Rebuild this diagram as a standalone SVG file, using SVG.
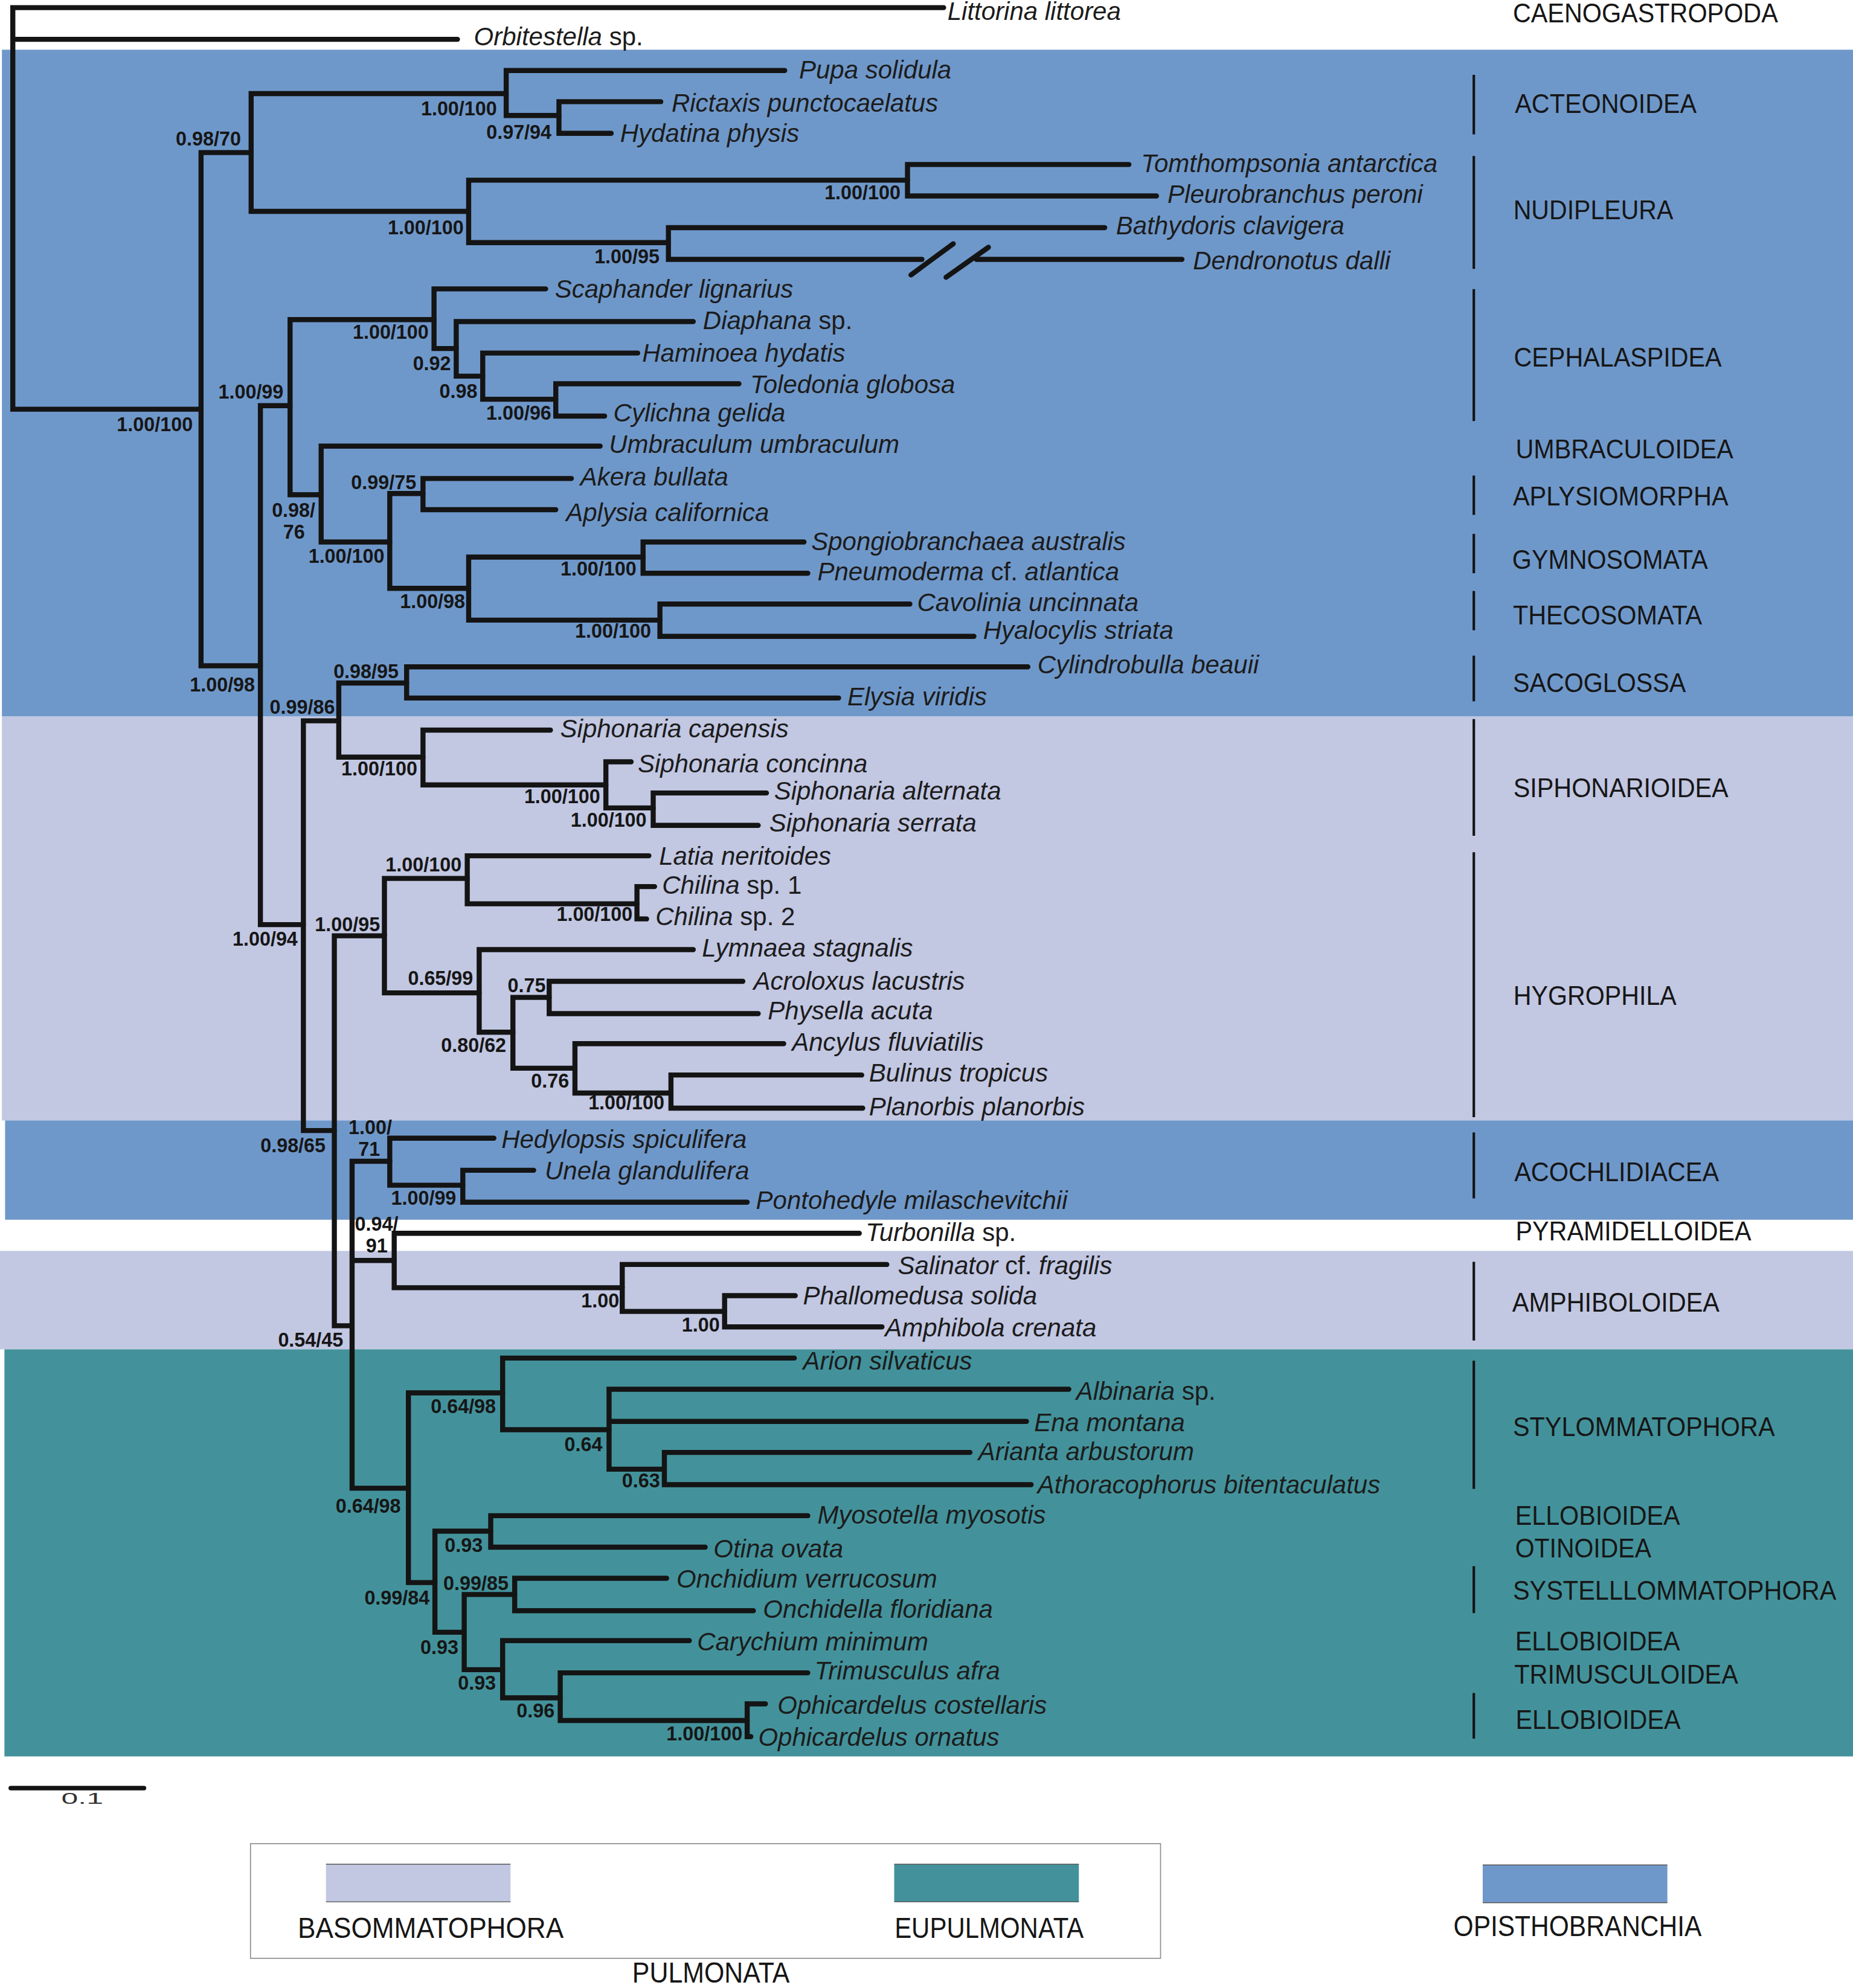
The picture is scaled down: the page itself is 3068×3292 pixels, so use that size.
<svg xmlns="http://www.w3.org/2000/svg" width="3068" height="3292" viewBox="0 0 3068 3292">
<style>
.sp{font-family:"Liberation Sans",Arial,sans-serif;font-style:italic;font-size:20px;fill:#1c1c1c}
.r{font-style:normal}
.bs{font-family:"Liberation Sans",Arial,sans-serif;font-weight:bold;font-size:15.4px;fill:#161616;text-anchor:end}
.cl{font-family:"Liberation Sans",Arial,sans-serif;font-size:21px;fill:#161616}
.lg{font-family:"Liberation Sans",Arial,sans-serif;font-size:23px;fill:#161616}
.br{fill:none;stroke:#141414;stroke-width:4;stroke-linecap:round;stroke-linejoin:miter}
.bar{stroke:#141414;stroke-width:2}
.blue{fill:#6f98ca}
.light{fill:#c2c7e2}
.teal{fill:#43929b}
</style>
<rect width="3068" height="3292" fill="#ffffff"/>
<g transform="scale(2.1)">
<g id="bands">
<rect class="blue" x="1.5" y="39.2" width="1460" height="525.8"/>
<rect class="light" x="1.5" y="565" width="1460" height="318.5"/>
<rect class="blue" x="4" y="883.5" width="1457.5" height="78.3"/>
<rect class="light" x="0" y="986.4" width="1461.5" height="77.6"/>
<rect class="teal" x="3.5" y="1064" width="1458" height="321"/>
</g>
<g id="connectors">
<path class="br" d="M744 6H10.1V322.7H158.5M10.1 31H360.7"/>
<path class="br" d="M198 120.3H158.5V525H205.3"/>
<path class="br" d="M399.1 73.8H198V166.7H369.5"/>
<path class="br" d="M618.7 55.6H399.1V91.1H440.7"/>
<path class="br" d="M521 80.2H440.7V105.1H481.9"/>
<path class="br" d="M715.5 142.1H369.5V191.3H527"/>
<path class="br" d="M890.1 129.7H715.5V154.5H911.8"/>
<path class="br" d="M871 179.5H527V204.5H726.9M769.8 204.5H931.9"/>
<path class="br" d="M718.2 216.8L751.6 192.2M745.9 218.6L779.3 195"/>
<path class="br" d="M228.7 319.9H205.3V729.1H239.2"/>
<path class="br" d="M342.2 252H228.7V390.1H253.2"/>
<path class="br" d="M430.2 227.8H342.2V274.8H359.7"/>
<path class="br" d="M546.6 253.6H359.7V296.6H380.6"/>
<path class="br" d="M502.8 278.4H380.6V314.8H438.2"/>
<path class="br" d="M582.6 302.6H438.2V328.1H476.7"/>
<path class="br" d="M473.2 351.8H253.2V427.4H307.3"/>
<path class="br" d="M333.5 389.2H307.3V463.9H369.5"/>
<path class="br" d="M450.5 377.3H333.5V401.9H438.2"/>
<path class="br" d="M507 439.3H369.5V489H520.3"/>
<path class="br" d="M633.9 427.4H507V452H636.9"/>
<path class="br" d="M717.4 476.3H520.3V501.8H767.9"/>
<path class="br" d="M267.1 568.4H239.2V891.5H263.6"/>
<path class="br" d="M320.6 538.6H267.1V597H333.5"/>
<path class="br" d="M810.4 525.8H320.6V550.4H661.2"/>
<path class="br" d="M434 575.7H333.5V618.9H477.7"/>
<path class="br" d="M497.6 600.7H477.7V637.1H515"/>
<path class="br" d="M604.3 625.3H515V650.8H597.8"/>
<path class="br" d="M303.1 737.9H263.6V1045.4H277.6"/>
<path class="br" d="M368.4 692.7H303.1V782.9H377.8"/>
<path class="br" d="M511.6 674.8H368.4V712.7H502.2"/>
<path class="br" d="M516.1 699.1H502.2V724.6H509.8"/>
<path class="br" d="M546.6 748.8H377.8V813.9H404.4"/>
<path class="br" d="M433 786.5H404.4V842.3H453.3"/>
<path class="br" d="M585.7 773.8H433V799.3H597.8"/>
<path class="br" d="M617.9 823H453.3V861.9H529"/>
<path class="br" d="M679.4 847.7H529V873.8H680.2"/>
<path class="br" d="M307.3 915.7H277.6V1173.5H322M277.6 993.9H310.8"/>
<path class="br" d="M389.4 897.5H307.3V934.6H364.9"/>
<path class="br" d="M420.8 922.8H364.9V948H589.1"/>
<path class="br" d="M677.5 972.5H310.8V1015.4H490.6"/>
<path class="br" d="M699.2 997.1H490.6V1034.1H571.3"/>
<path class="br" d="M627 1021.7H571.3V1046.3H695.4"/>
<path class="br" d="M396.3 1098.3H322V1247.9H342.9"/>
<path class="br" d="M626.3 1070.9H396.3V1127.4H480.2"/>
<path class="br" d="M842.7 1095.5H480.2V1158.5H523.8M480.2 1120.8H809.3"/>
<path class="br" d="M764.8 1145.3H523.8V1170.7H813"/>
<path class="br" d="M386.9 1207.4H342.9V1287.1H366"/>
<path class="br" d="M636.9 1195.2H386.9V1220H556"/>
<path class="br" d="M405.8 1257.3H366V1316.6H396.3"/>
<path class="br" d="M525.6 1244.5H405.8V1270.1H594"/>
<path class="br" d="M543.5 1293.7H396.3V1338.8H441.7"/>
<path class="br" d="M636.9 1319.1H441.7V1356.7H589.1"/>
<path class="br" d="M603.5 1343.6H589.1V1369.4H592"/>
</g>
<g id="taxa">
<g id="t-littorina"><text class="sp" x="747" y="15.5">Littorina littorea</text></g>
<g id="t-orbitestella"><text class="sp" x="373.6" y="35.5">Orbitestella <tspan class="r">sp.</tspan></text></g>
<g id="t-pupa"><text class="sp" x="630" y="62">Pupa solidula</text></g>
<g id="t-rictaxis"><text class="sp" x="529.5" y="88">Rictaxis punctocaelatus</text></g>
<g id="t-hydatina"><text class="sp" x="488.9" y="112">Hydatina physis</text></g>
<g id="t-tomthompsonia"><text class="sp" x="899.6" y="135.7">Tomthompsonia antarctica</text></g>
<g id="t-pleurobranchus"><text class="sp" x="920.5" y="160">Pleurobranchus peroni</text></g>
<g id="t-bathydoris"><text class="sp" x="879.9" y="185">Bathydoris clavigera</text></g>
<g id="t-dendronotus"><text class="sp" x="940.6" y="212.5">Dendronotus dalli</text></g>
<g id="t-scaphander"><text class="sp" x="437.5" y="235">Scaphander lignarius</text></g>
<g id="t-diaphana"><text class="sp" x="554.2" y="259.6">Diaphana <tspan class="r">sp.</tspan></text></g>
<g id="t-haminoea"><text class="sp" x="506.3" y="285.3">Haminoea hydatis</text></g>
<g id="t-toledonia"><text class="sp" x="591.4" y="309.9">Toledonia globosa</text></g>
<g id="t-cylichna"><text class="sp" x="483.6" y="332.5">Cylichna gelida</text></g>
<g id="t-umbraculum"><text class="sp" x="480.1" y="357.3">Umbraculum umbraculum</text></g>
<g id="t-akera"><text class="sp" x="457.5" y="383">Akera bullata</text></g>
<g id="t-aplysia"><text class="sp" x="446.3" y="411">Aplysia californica</text></g>
<g id="t-spongiobranchaea"><text class="sp" x="639.6" y="433.8">Spongiobranchaea australis</text></g>
<g id="t-pneumoderma"><text class="sp" x="644.5" y="457.5">Pneumoderma <tspan class="r">cf.</tspan> atlantica</text></g>
<g id="t-cavolinia"><text class="sp" x="723.1" y="481.8">Cavolinia uncinnata</text></g>
<g id="t-hyalocylis"><text class="sp" x="775.1" y="504">Hyalocylis striata</text></g>
<g id="t-cylindrobulla"><text class="sp" x="818" y="531">Cylindrobulla beauii</text></g>
<g id="t-elysia"><text class="sp" x="668.1" y="556">Elysia viridis</text></g>
<g id="t-scapensis"><text class="sp" x="441.7" y="581.6">Siphonaria capensis</text></g>
<g id="t-sconcinna"><text class="sp" x="502.8" y="608.9">Siphonaria concinna</text></g>
<g id="t-salternata"><text class="sp" x="610.3" y="630.7">Siphonaria alternata</text></g>
<g id="t-sserrata"><text class="sp" x="606.5" y="655.5">Siphonaria serrata</text></g>
<g id="t-latia"><text class="sp" x="519.6" y="682.1">Latia neritoides</text></g>
<g id="t-chilina1"><text class="sp" x="522" y="705">Chilina <tspan class="r">sp. 1</tspan></text></g>
<g id="t-chilina2"><text class="sp" x="516.8" y="729.5">Chilina <tspan class="r">sp. 2</tspan></text></g>
<g id="t-lymnaea"><text class="sp" x="553.4" y="754.5">Lymnaea stagnalis</text></g>
<g id="t-acroloxus"><text class="sp" x="594" y="780.5">Acroloxus lacustris</text></g>
<g id="t-physella"><text class="sp" x="605.4" y="804">Physella acuta</text></g>
<g id="t-ancylus"><text class="sp" x="624.4" y="828.8">Ancylus fluviatilis</text></g>
<g id="t-bulinus"><text class="sp" x="685.1" y="853">Bulinus tropicus</text></g>
<g id="t-planorbis"><text class="sp" x="685.1" y="879.5">Planorbis planorbis</text></g>
<g id="t-hedylopsis"><text class="sp" x="395.3" y="905.1">Hedylopsis spiculifera</text></g>
<g id="t-unela"><text class="sp" x="429.5" y="929.8">Unela glandulifera</text></g>
<g id="t-pontohedyle"><text class="sp" x="596" y="953.5">Pontohedyle milaschevitchii</text></g>
<g id="t-turbonilla"><text class="sp" x="682.5" y="978.5">Turbonilla <tspan class="r">sp.</tspan></text></g>
<g id="t-salinator"><text class="sp" x="707.9" y="1004.8">Salinator <tspan class="r">cf.</tspan> fragilis</text></g>
<g id="t-phallomedusa"><text class="sp" x="633.1" y="1028.5">Phallomedusa solida</text></g>
<g id="t-amphibola"><text class="sp" x="697.7" y="1054">Amphibola crenata</text></g>
<g id="t-arion"><text class="sp" x="633.1" y="1080">Arion silvaticus</text></g>
<g id="t-albinaria"><text class="sp" x="848.4" y="1104">Albinaria <tspan class="r">sp.</tspan></text></g>
<g id="t-ena"><text class="sp" x="815.3" y="1128.5">Ena montana</text></g>
<g id="t-arianta"><text class="sp" x="771.3" y="1151.5">Arianta arbustorum</text></g>
<g id="t-athoracophorus"><text class="sp" x="818" y="1177.8">Athoracophorus bitentaculatus</text></g>
<g id="t-myosotella"><text class="sp" x="644.5" y="1201.5">Myosotella myosotis</text></g>
<g id="t-otina"><text class="sp" x="562.5" y="1228">Otina ovata</text></g>
<g id="t-onchidium"><text class="sp" x="533.3" y="1252">Onchidium verrucosum</text></g>
<g id="t-onchidella"><text class="sp" x="601.6" y="1275.8">Onchidella floridiana</text></g>
<g id="t-carychium"><text class="sp" x="549.6" y="1301.6">Carychium minimum</text></g>
<g id="t-trimusculus"><text class="sp" x="642.2" y="1324.5">Trimusculus afra</text></g>
<g id="t-ocostellaris"><text class="sp" x="613" y="1351.5">Ophicardelus costellaris</text></g>
<g id="t-oornatus"><text class="sp" x="597.8" y="1376.5">Ophicardelus ornatus</text></g>
</g>
<g id="support">
<text class="bs" x="152" y="340">1.00/100</text>
<text class="bs" x="190" y="114.8">0.98/70</text>
<text class="bs" x="391.8" y="91.1">1.00/100</text>
<text class="bs" x="434.8" y="109.3">0.97/94</text>
<text class="bs" x="365.6" y="185">1.00/100</text>
<text class="bs" x="710" y="157">1.00/100</text>
<text class="bs" x="520" y="207.7">1.00/95</text>
<text class="bs" x="223.5" y="314.5">1.00/99</text>
<text class="bs" x="338" y="267">1.00/100</text>
<text class="bs" x="355.5" y="291.7">0.92</text>
<text class="bs" x="376.4" y="313.6">0.98</text>
<text class="bs" x="434.7" y="330.9">1.00/96</text>
<text class="bs" x="248.6" y="407.4">0.98/</text>
<text class="bs" x="240.3" y="424.7">76</text>
<text class="bs" x="303.1" y="443.8">1.00/100</text>
<text class="bs" x="328.2" y="385.5">0.99/75</text>
<text class="bs" x="366.7" y="479.4">1.00/98</text>
<text class="bs" x="501.8" y="453.8">1.00/100</text>
<text class="bs" x="513.3" y="503">1.00/100</text>
<text class="bs" x="201" y="545">1.00/98</text>
<text class="bs" x="314.3" y="534.9">0.98/95</text>
<text class="bs" x="264" y="563">0.99/86</text>
<text class="bs" x="329" y="611.6">1.00/100</text>
<text class="bs" x="473.2" y="633.5">1.00/100</text>
<text class="bs" x="509.8" y="651.7">1.00/100</text>
<text class="bs" x="363.9" y="687.2">1.00/100</text>
<text class="bs" x="498.7" y="726.4">1.00/100</text>
<text class="bs" x="299.6" y="734.2">1.00/95</text>
<text class="bs" x="234.7" y="745.5">1.00/94</text>
<text class="bs" x="373" y="776.9">0.65/99</text>
<text class="bs" x="430.2" y="782.3">0.75</text>
<text class="bs" x="399.1" y="829.7">0.80/62</text>
<text class="bs" x="448.7" y="857.8">0.76</text>
<text class="bs" x="523.8" y="875">1.00/100</text>
<text class="bs" x="309" y="894.2">1.00/</text>
<text class="bs" x="299.6" y="911.5">71</text>
<text class="bs" x="256.7" y="908.8">0.98/65</text>
<text class="bs" x="359.7" y="949.8">1.00/99</text>
<text class="bs" x="314" y="970.7">0.94/</text>
<text class="bs" x="305.6" y="987.5">91</text>
<text class="bs" x="488.2" y="1030.8">1.00</text>
<text class="bs" x="567.5" y="1050">1.00</text>
<text class="bs" x="270.6" y="1061.8">0.54/45</text>
<text class="bs" x="391" y="1114.2">0.64/98</text>
<text class="bs" x="475" y="1144.3">0.64</text>
<text class="bs" x="520.3" y="1173">0.63</text>
<text class="bs" x="316" y="1192.9">0.64/98</text>
<text class="bs" x="380.6" y="1223.8">0.93</text>
<text class="bs" x="400.9" y="1253.6">0.99/85</text>
<text class="bs" x="338.7" y="1265.2">0.99/84</text>
<text class="bs" x="361.4" y="1304.4">0.93</text>
<text class="bs" x="391" y="1332.6">0.93</text>
<text class="bs" x="437.2" y="1354.3">0.96</text>
<text class="bs" x="585.3" y="1372.2">1.00/100</text>
</g>
<g id="clades">
<line class="bar" x1="1162" y1="59" x2="1162" y2="106"/>
<line class="bar" x1="1162" y1="123" x2="1162" y2="212"/>
<line class="bar" x1="1162" y1="228" x2="1162" y2="332"/>
<line class="bar" x1="1162" y1="375" x2="1162" y2="406"/>
<line class="bar" x1="1162" y1="421" x2="1162" y2="452"/>
<line class="bar" x1="1162" y1="466" x2="1162" y2="497"/>
<line class="bar" x1="1162" y1="517" x2="1162" y2="553"/>
<line class="bar" x1="1162" y1="567" x2="1162" y2="659"/>
<line class="bar" x1="1162" y1="672" x2="1162" y2="881"/>
<line class="bar" x1="1162" y1="893" x2="1162" y2="945"/>
<line class="bar" x1="1162" y1="995" x2="1162" y2="1057"/>
<line class="bar" x1="1162" y1="1073" x2="1162" y2="1174"/>
<line class="bar" x1="1162" y1="1235" x2="1162" y2="1272"/>
<line class="bar" x1="1162" y1="1335" x2="1162" y2="1371"/>
<text class="cl" x="1192.8" y="17.5" textLength="209" lengthAdjust="spacingAndGlyphs">CAENOGASTROPODA</text>
<text class="cl" x="1194.4" y="89" textLength="143.3" lengthAdjust="spacingAndGlyphs">ACTEONOIDEA</text>
<text class="cl" x="1193.2" y="173" textLength="126" lengthAdjust="spacingAndGlyphs">NUDIPLEURA</text>
<text class="cl" x="1193.6" y="289" textLength="163.8" lengthAdjust="spacingAndGlyphs">CEPHALASPIDEA</text>
<text class="cl" x="1195" y="361.5" textLength="171.6" lengthAdjust="spacingAndGlyphs">UMBRACULOIDEA</text>
<text class="cl" x="1192.8" y="398.5" textLength="169.9" lengthAdjust="spacingAndGlyphs">APLYSIOMORPHA</text>
<text class="cl" x="1192.3" y="448.5" textLength="154.2" lengthAdjust="spacingAndGlyphs">GYMNOSOMATA</text>
<text class="cl" x="1192.8" y="492.5" textLength="149.2" lengthAdjust="spacingAndGlyphs">THECOSOMATA</text>
<text class="cl" x="1192.8" y="545.5" textLength="136.4" lengthAdjust="spacingAndGlyphs">SACOGLOSSA</text>
<text class="cl" x="1193.2" y="628.5" textLength="169.5" lengthAdjust="spacingAndGlyphs">SIPHONARIOIDEA</text>
<text class="cl" x="1193.2" y="792.5" textLength="128.6" lengthAdjust="spacingAndGlyphs">HYGROPHILA</text>
<text class="cl" x="1193.9" y="931.5" textLength="161.4" lengthAdjust="spacingAndGlyphs">ACOCHLIDIACEA</text>
<text class="cl" x="1195" y="978" textLength="185.8" lengthAdjust="spacingAndGlyphs">PYRAMIDELLOIDEA</text>
<text class="cl" x="1192.3" y="1034.5" textLength="163.4" lengthAdjust="spacingAndGlyphs">AMPHIBOLOIDEA</text>
<text class="cl" x="1192.8" y="1132.5" textLength="206.5" lengthAdjust="spacingAndGlyphs">STYLOMMATOPHORA</text>
<text class="cl" x="1194.6" y="1202.5" textLength="130" lengthAdjust="spacingAndGlyphs">ELLOBIOIDEA</text>
<text class="cl" x="1194.6" y="1228" textLength="107.3" lengthAdjust="spacingAndGlyphs">OTINOIDEA</text>
<text class="cl" x="1192.8" y="1261.5" textLength="255" lengthAdjust="spacingAndGlyphs">SYSTELLLOMMATOPHORA</text>
<text class="cl" x="1194.6" y="1301.5" textLength="130" lengthAdjust="spacingAndGlyphs">ELLOBIOIDEA</text>
<text class="cl" x="1193.9" y="1327.5" textLength="176.5" lengthAdjust="spacingAndGlyphs">TRIMUSCULOIDEA</text>
<text class="cl" x="1195" y="1363.5" textLength="130" lengthAdjust="spacingAndGlyphs">ELLOBIOIDEA</text>
</g>
<g id="scalebar">
<line x1="8.5" y1="1410" x2="113.5" y2="1410" stroke="#141414" stroke-width="3.6" stroke-linecap="round"/>
<text x="48.4" y="1422.5" font-family="Liberation Sans, Arial, sans-serif" font-size="12" fill="#333" textLength="33" lengthAdjust="spacingAndGlyphs">0.1</text>
</g>
<g id="legend">
<rect x="197.5" y="1453.8" width="717.5" height="90.4" fill="#ffffff" stroke="#8c8c8c" stroke-width="0.8"/>
<rect class="light" x="257" y="1470" width="145.5" height="29.7"/>
<rect class="teal" x="705" y="1470" width="145.6" height="29.7"/>
<rect class="blue" x="1169" y="1470.6" width="145.6" height="29.8"/>
<path d="M257 1470H402.5M257 1499.7H402.5M705 1470H850.6M705 1499.7H850.6M1169 1470.6H1314.6M1169 1500.4H1314.6" stroke="#555" stroke-width="0.7" fill="none"/>
<text class="lg" x="234.8" y="1528.2" textLength="209.6" lengthAdjust="spacingAndGlyphs">BASOMMATOPHORA</text>
<text class="lg" x="705.3" y="1528.2" textLength="149.1" lengthAdjust="spacingAndGlyphs">EUPULMONATA</text>
<text class="lg" x="1146" y="1526.6" textLength="195.6" lengthAdjust="spacingAndGlyphs">OPISTHOBRANCHIA</text>
<text class="lg" x="498.5" y="1563.5" textLength="124" lengthAdjust="spacingAndGlyphs">PULMONATA</text>
</g>
</g>
</svg>
